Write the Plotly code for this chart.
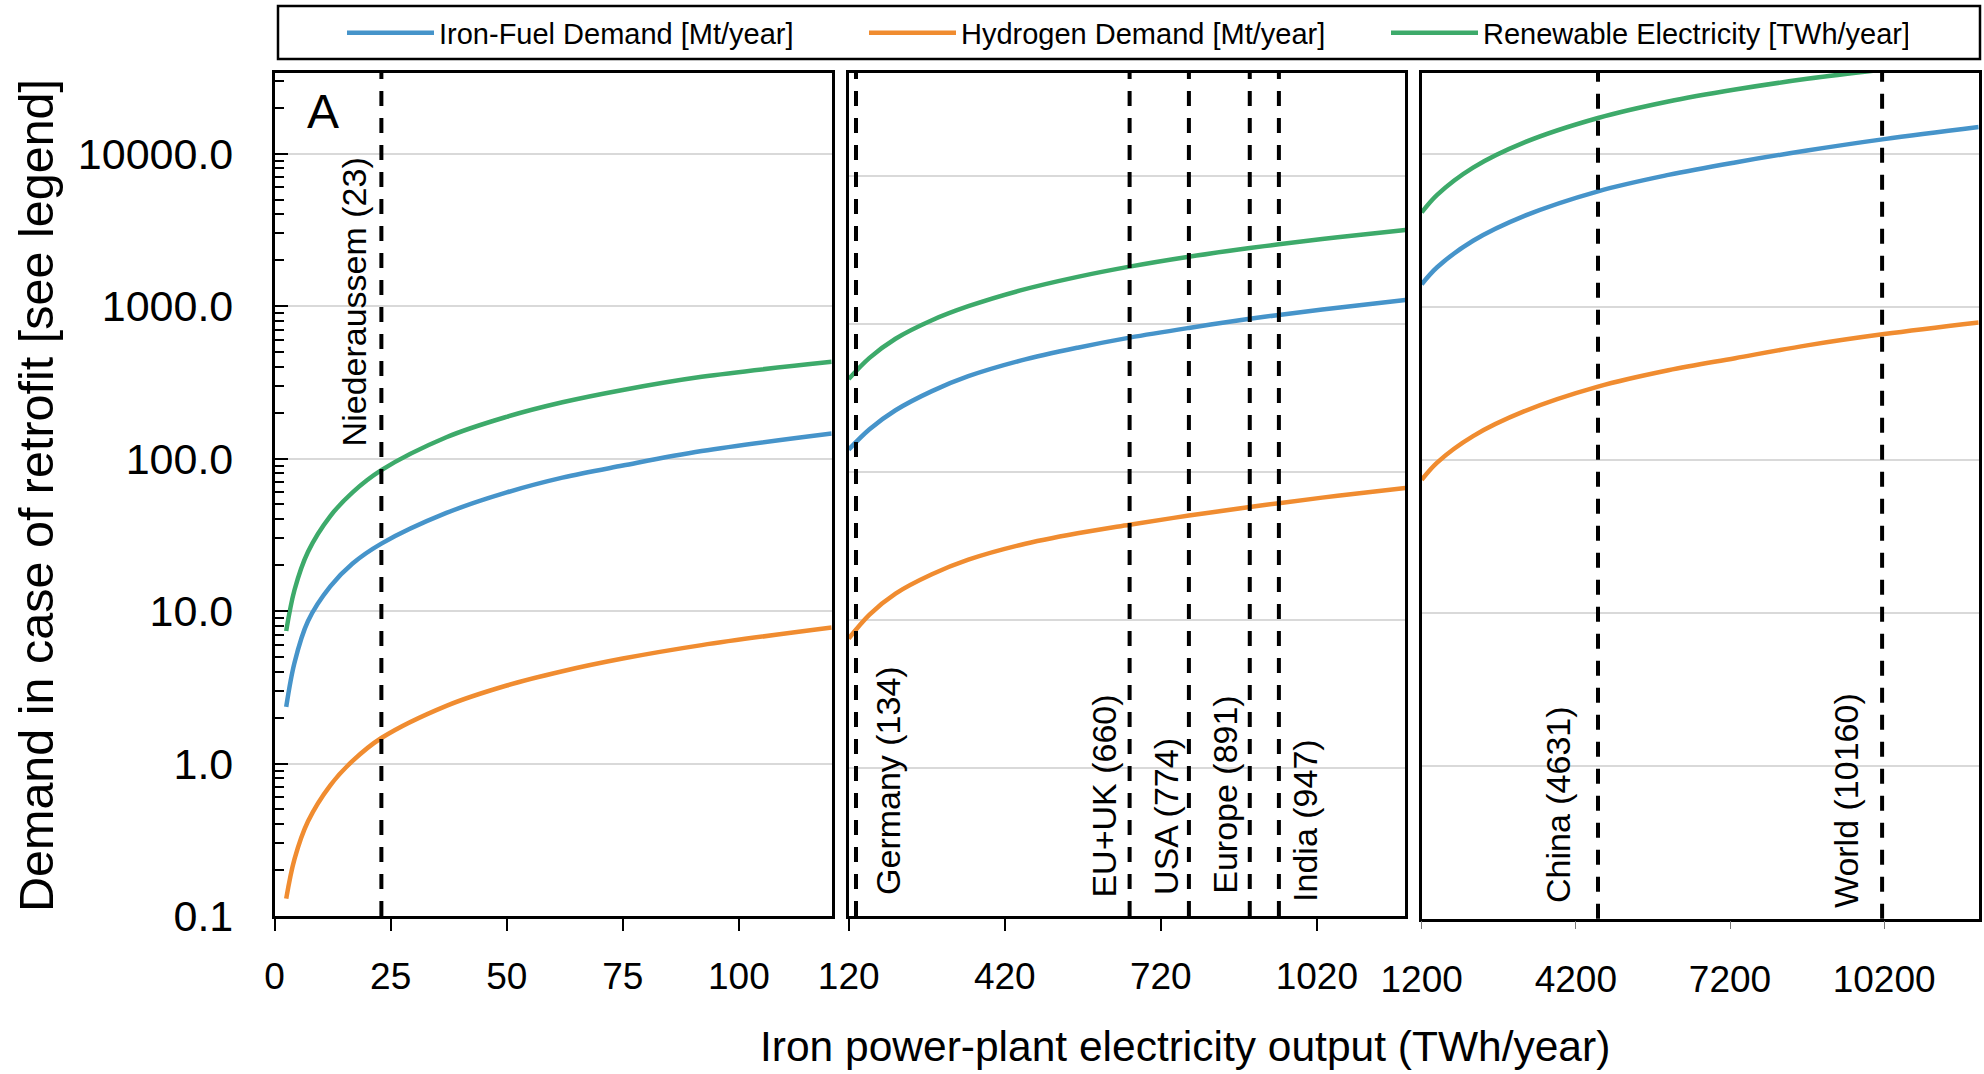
import plotly.graph_objects as go

W, H = 1984, 1074

# ---------------- data ----------------
# panel 1 (0-120 TWh/year)
p1_output = [2.5, 4.3, 7.2, 12, 16.8, 23, 37, 50, 62, 75, 92, 120]
p1_iron = [2.35, 4.6, 8.6, 14.5, 20.5, 27.7, 44, 60, 75, 90, 112, 146]
p1_hydrogen = [0.13, 0.237, 0.418, 0.72, 1.04, 1.47, 2.39, 3.25, 4.03, 4.88, 5.98, 7.8]
p1_renew = [7.4, 13.8, 24.5, 42, 60.1, 84, 138, 188, 234, 282, 344, 431]

# panel 2 (120-1200 TWh/year)
p2_output = [120, 160, 210, 280, 350, 450, 560, 660, 774, 891, 947, 1060, 1190]
p2_iron = [142, 195, 262, 353, 445, 567, 694, 812, 944, 1087, 1155, 1293, 1458]
p2_hydrogen = [7.5, 10.9, 15.1, 20.4, 25.6, 32.2, 38.6, 44.1, 50.9, 58.1, 61.7, 69.3, 78.1]
p2_renew = [426, 592, 798, 1064, 1323, 1692, 2089, 2449, 2856, 3270, 3466, 3869, 4332]

# panel 3 (1200-12000 TWh/year)
p3_output = [1200, 1500, 2200, 3200, 4631, 6000, 7300, 8700, 10200, 12040]
p3_iron = [1404, 1815, 2706, 3936, 5696, 7290, 8797, 10527, 12495, 14990]
p3_hydrogen = [74, 96, 143, 208, 301, 385, 462, 560, 664, 791]
p3_renew_output = [1200, 1500, 2200, 3200, 4631, 6000, 7300, 8700, 10200]
p3_renew = [4140, 5400, 8140, 11900, 17180, 22020, 26350, 30970, 35700]

series_names = ["Iron-Fuel Demand [Mt/year]", "Hydrogen Demand [Mt/year]",
                "Renewable Electricity [TWh/year]"]

# reference plants / regions (TWh/year)
marker_names = ["Niederaussem (23)", "Germany (134)", "EU+UK (660)", "USA (774)",
                "Europe (891)", "India (947)", "China (4631)", "World (10160)"]
marker_values = [23, 134, 660, 774, 891, 947, 4631, 10160]
marker_panel = [1, 2, 2, 2, 2, 2, 3, 3]

y_tickvals = [0.1, 1, 10, 100, 1000, 10000]
y_ticktext = ["0.1", "1.0", "10.0", "100.0", "1000.0", "10000.0"]
y_minor_vals = [m * d for d in [0.1, 1, 10, 100, 1000, 10000] for m in range(2, 10)
                if m * d < 34000]
x1_ticks = [0, 25, 50, 75, 100]
x2_ticks = [120, 420, 720, 1020]
x3_ticks = [1200, 4200, 7200, 10200]

# ---------------- style ----------------
FONT = "Liberation Sans, Arial, sans-serif"
colors = ["#4694CA", "#F08C30", "#3DAA6A"]

# label placement (style only): x shift in px from its line, vertical centre in px
label_xshift = [-27, 32, -26, -23, -25, 26, -40, -36]
label_ycenter = [302, 780, 796, 816, 795, 820, 805, 801]

def px_x(p):
    return p / W

def px_y(p):
    return 1 - p / H

dom1 = [px_x(274.6), px_x(831.7)]
dom2 = [px_x(848.7), px_x(1405.3)]
dom3 = [px_x(1421.7), px_x(1978.7)]
ydom = [px_y(916), px_y(72.7)]
Y1_RANGE = [-1, 4.531]

fig = go.Figure()

panels = [
    (p1_output, [p1_iron, p1_hydrogen, p1_renew], "x", "y"),
    (p2_output, [p2_iron, p2_hydrogen, p2_renew], "x2", "y2"),
    (p3_output, [p3_iron, p3_hydrogen, None], "x3", "y3"),
]
for pi, (xs, ys, xa, ya) in enumerate(panels):
    for si in range(3):
        xvals, yvals = xs, ys[si]
        if yvals is None:
            xvals, yvals = p3_renew_output, p3_renew
        fig.add_trace(go.Scatter(
            x=xvals, y=yvals, xaxis=xa, yaxis=ya, mode="lines",
            line=dict(color=colors[si], width=4.5, shape="spline", smoothing=1.0),
            name=series_names[si], legendgroup=series_names[si],
            showlegend=(pi == 0),
        ))

axis_common = dict(showline=True, linecolor="black", linewidth=2.5, mirror=True,
                   zeroline=False, showgrid=False, automargin=False)

minor_ticks = dict(tickmode="array", tickvals=y_minor_vals, ticks="inside", ticklen=10,
                   tickwidth=2, tickcolor="black", showgrid=False)

fig.update_layout(
    template="none",
    width=W, height=H, autosize=False,
    margin=dict(l=0, r=0, t=0, b=0, pad=0),
    paper_bgcolor="white", plot_bgcolor="white",
    font=dict(family=FONT, color="black"),
    xaxis=dict(domain=dom1, range=[0, 120], tickmode="array", tickvals=x1_ticks,
               ticks="outside", ticklen=12, tickwidth=2, tickcolor="black",
               tickfont=dict(size=37), ticklabelstandoff=14, anchor="y", **axis_common),
    xaxis2=dict(domain=dom2, range=[120, 1190], tickmode="array", tickvals=x2_ticks,
                ticks="outside", ticklen=12, tickwidth=2, tickcolor="black",
                tickfont=dict(size=37), ticklabelstandoff=14, anchor="y2", **axis_common),
    xaxis3=dict(domain=dom3, range=[1200, 12040], tickmode="array", tickvals=x3_ticks,
                ticktext=[str(v) for v in x3_ticks],
                ticks="outside", ticklen=8, tickwidth=1, tickcolor="#777",
                tickfont=dict(size=37), ticklabelstandoff=18, anchor="y3", **axis_common),
    yaxis=dict(domain=ydom, type="log", range=Y1_RANGE, tickmode="array",
               tickvals=y_tickvals, ticktext=y_ticktext, ticks="inside", ticklen=14,
               tickwidth=2, tickcolor="black", tickfont=dict(size=43),
               ticklabelstandoff=30, anchor="x", automargin=False,
               minor=minor_ticks,
               showline=True, linecolor="black", linewidth=2.5, mirror=True,
               zeroline=False, showgrid=True, gridcolor="#d9d9d9", gridwidth=2),
    # overlay axis carrying the logarithmic minor ticks of panel 1
    yaxis4=dict(overlaying="y", anchor="x", side="left", type="log", range=Y1_RANGE,
                tickmode="array", tickvals=y_minor_vals, ticks="inside", ticklen=10,
                tickwidth=2, tickcolor="black", showticklabels=False,
                showline=False, showgrid=False, zeroline=False, automargin=False),
    yaxis2=dict(domain=ydom, type="log", range=[-1, 4.70], tickmode="array",
                tickvals=y_tickvals, showticklabels=False, ticks="", anchor="x2",
                automargin=False,
                showline=True, linecolor="black", linewidth=2.5, mirror=True,
                zeroline=False, showgrid=True, gridcolor="#d9d9d9", gridwidth=2),
    yaxis3=dict(domain=[px_y(918.7), px_y(72.7)], type="log", range=Y1_RANGE,
                tickmode="array", tickvals=y_tickvals, showticklabels=False, ticks="",
                anchor="x3", automargin=False,
                showline=True, linecolor="black", linewidth=2.5, mirror=True,
                zeroline=False, showgrid=True, gridcolor="#d9d9d9", gridwidth=2),
    legend=dict(orientation="h", x=px_x(342), y=px_y(33), xanchor="left",
                yanchor="middle", font=dict(size=29), itemwidth=87,
                entrywidth=420, entrywidthmode="pixels",
                bgcolor="rgba(0,0,0,0)", borderwidth=0),
)

# legend frame
fig.add_shape(type="rect", xref="paper", yref="paper",
              x0=px_x(278), x1=px_x(1980), y0=px_y(59), y1=px_y(6),
              line=dict(color="black", width=2.5), fillcolor="rgba(0,0,0,0)")

# dashed reference lines + labels
for name, val, pan, dx, yc in zip(marker_names, marker_values, marker_panel,
                                  label_xshift, label_ycenter):
    xa = "x" if pan == 1 else f"x{pan}"
    ya = "y" if pan == 1 else f"y{pan}"
    fig.add_shape(type="line", xref=xa, yref=f"{ya} domain", x0=val, x1=val, y0=0, y1=1,
                  line=dict(color="black", width=4, dash="15px,12px"), layer="above")
    fig.add_annotation(x=val, xref=xa, y=px_y(yc), yref="paper", text=name,
                       textangle=-90, showarrow=False, xshift=dx,
                       xanchor="center", yanchor="middle",
                       font=dict(size=34, family=FONT, color="black"))

# panel letter
fig.add_annotation(x=px_x(323), y=px_y(111), xref="paper", yref="paper", text="A",
                   showarrow=False, font=dict(size=48, family=FONT, color="black"),
                   xanchor="center", yanchor="middle")

# axis titles
fig.add_annotation(x=px_x(36), y=px_y(496), xref="paper", yref="paper",
                   text="Demand in case of retrofit [see legend]", textangle=-90,
                   showarrow=False, font=dict(size=48.5, family=FONT, color="black"),
                   xanchor="center", yanchor="middle")
fig.add_annotation(x=px_x(1185), y=px_y(1046), xref="paper", yref="paper",
                   text="Iron power-plant electricity output (TWh/year)",
                   showarrow=False, font=dict(size=42.5, family=FONT, color="black"),
                   xanchor="center", yanchor="middle")

fig.write_html("out.html")
